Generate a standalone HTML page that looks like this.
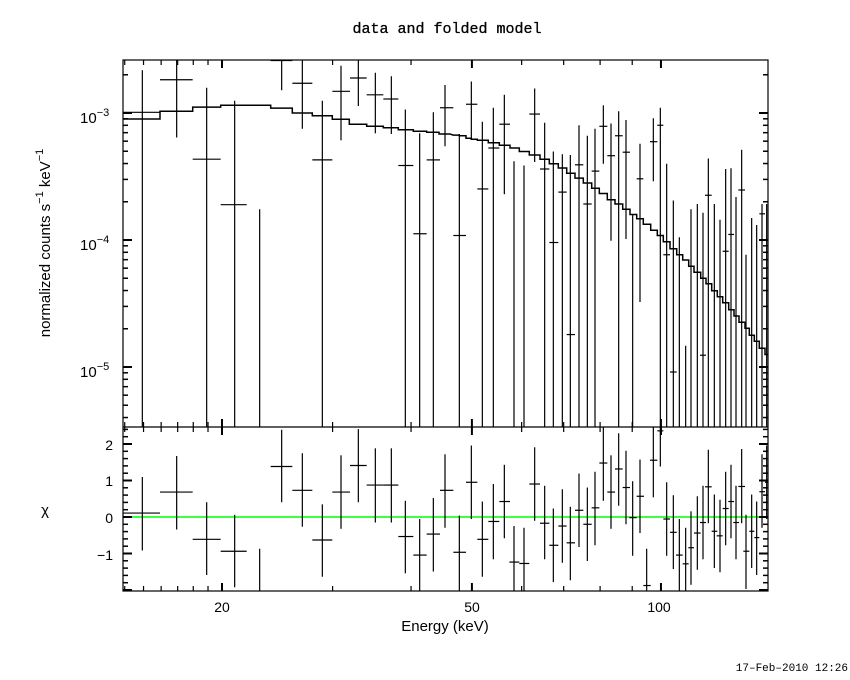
<!DOCTYPE html>
<html><head><meta charset="utf-8"><style>
body{margin:0;background:#fff;}
svg{display:block;font-family:"Liberation Sans",sans-serif;}
</style></head><body>
<svg id="s" width="850" height="680" xmlns="http://www.w3.org/2000/svg">
<rect width="850" height="680" fill="#fff"/>
<text x="447" y="33" font-size="15" text-anchor="middle" font-family="Liberation Mono,monospace" stroke="#000" stroke-width="0.3">data and folded model</text>
<text x="445" y="631" font-size="15" text-anchor="middle">Energy (keV)</text>
<text x="222" y="612" font-size="14" text-anchor="middle">20</text>
<text x="472" y="612" font-size="14" text-anchor="middle">50</text>
<text x="659" y="612" font-size="14" text-anchor="middle">100</text>
<text x="848" y="671" font-size="11" text-anchor="end" font-family="Liberation Mono,monospace">17–Feb–2010 12:26</text>
<text transform="translate(50,243) rotate(-90)" font-size="15" text-anchor="middle">normalized counts s<tspan dy="-7" font-size="11">−1</tspan><tspan dy="7">  keV</tspan><tspan dy="-7" font-size="11">−1</tspan></text>
<text x="80" y="123" font-size="15">10<tspan dy="-7" font-size="11">−3</tspan></text>
<text x="80" y="250" font-size="15">10<tspan dy="-7" font-size="11">−4</tspan></text>
<text x="80" y="377" font-size="15">10<tspan dy="-7" font-size="11">−5</tspan></text>
<text x="45" y="515" font-size="15" text-anchor="middle">χ</text>
<text x="113" y="450" font-size="14" text-anchor="end">2</text>
<text x="113" y="486" font-size="14" text-anchor="end">1</text>
<text x="113" y="523" font-size="14" text-anchor="end">0</text>
<text x="113" y="560" font-size="14" text-anchor="end">−1</text>
<g id="g" stroke="#000" fill="none" stroke-width="1.2"></g>
</svg>
<script>
var g=document.getElementById('g');
function L(x1,y1,x2,y2,c,w){var e=document.createElementNS('http://www.w3.org/2000/svg','line');e.setAttribute('x1',x1);e.setAttribute('y1',y1);e.setAttribute('x2',x2);e.setAttribute('y2',y2);if(c)e.setAttribute('stroke',c);if(w)e.setAttribute('stroke-width',w);g.appendChild(e);}
function Y(zy){return 50+zy/2.857;}
var T=60,M=427,B=591,Lx=123,R=768;
function cl(y,a,b){return Math.max(a,Math.min(b,y));}
var top1=[[100,127,70,180,178,58,1078],[100,230,180,278,85,30,250],[100,320,278,362,312,108,1078],[100,404,362,440,442,145,1078],[100,479,null,null,null,455,1078],[100,545,512,577,30,30,115],[100,607,577,637,95,30,225],[100,667,637,697,314,145,1078],[100,723,697,750,118,45,258],[100,775,750,800,80,30,160],[100,826,800,850,128,65,238],[100,874,850,895,140,75,240],[100,916,895,940,330,170,1078],[100,959,940,980,525,238,1078],[100,1000,980,1020,314,178,1078],
[440,15,0,40,165,100,275],[440,58,40,78,530,240,1078],[440,94,78,112,155,90,255],[440,127,112,145,397,205,1078],[440,160,145,178,280,165,1078],[440,193,178,210,212,128,412],[440,222,null,null,null,318,1078],[440,252,null,null,null,330,1078],[440,284,268,300,183,110,320],[440,314,300,328,340,208,1078],[440,340,328,355,550,290,1078],[440,367,355,380,406,298,1078],[440,391,380,405,813,300,1078],[440,417,405,430,328,215,1078],[440,442,430,455,440,245,1078],[440,465,455,478,346,225,1078],[440,490,478,502,218,158,325],[440,513,502,525,302,210,545],[440,536,525,548,245,175,1078],[440,558,548,570,292,200,540],[440,578,null,null,null,470,1078],[440,600,590,610,368,268,720],[440,640,630,652,262,195,375],[440,661,652,670,215,165,1078],[440,680,670,690,585,325,1078],[440,700,690,710,920,430,1078],[440,718,null,null,null,535,1078],[440,737,null,null,null,845,1078],[440,753,null,null,null,455,1078],[440,772,null,null,null,440,1078],[440,789,780,798,872,465,1078],[440,805,795,815,415,310,1078],[440,823,null,null,null,440,1078],[440,840,null,null,null,485,1078],[440,857,848,866,575,340,1078],[440,873,865,882,527,338,1078],[440,888,null,null,null,420,1078],[440,905,895,915,400,285,1078],[440,918,null,null,null,585,1078],[440,935,null,null,null,480,1078],[440,950,null,null,null,500,1078],[440,966,958,975,468,440,1078],[440,980,null,null,null,440,1078]];
top1.forEach(function(p){var o=p[0];var xc=o+p[1]/3;L(xc,cl(Y(p[5]),T,M),xc,cl(Y(p[6]),T,M));if(p[4]!==null)L(Math.max(Lx,o+p[2]/3),cl(Y(p[4]),T,M),o+p[3]/3,cl(Y(p[4]),T,M));});
var res=[[100,127,70,180,1323,1220,1430],[100,230,180,278,1263,1160,1370],[100,320,278,362,1398,1292,1500],[100,404,362,440,1432,1328,1535],[100,479,440,512,1560,1425,1545],[100,545,512,577,1190,1085,1292],[100,607,577,637,1258,1152,1362],[100,667,637,697,1400,1298,1505],[100,723,697,750,1263,1158,1368],[100,775,750,800,1187,1083,1292],[100,826,800,850,1243,1138,1350],[100,874,850,895,1243,1138,1350],[100,916,895,940,1390,1288,1495],[100,959,940,980,1443,1340,1545],[100,1000,980,1020,1383,1280,1490],
[440,15,0,40,1258,1155,1365],[440,58,40,78,1435,1330,1560],[440,94,78,112,1235,1130,1340],[440,127,112,145,1398,1290,1505],[440,160,145,178,1347,1240,1455],[440,193,178,210,1290,1185,1395],[440,222,208,238,1463,1360,1570],[440,252,238,268,1467,1365,1570],[440,284,268,300,1240,1135,1345],[440,314,300,328,1352,1245,1455],[440,340,328,355,1415,1310,1520],[440,367,355,380,1360,1255,1465],[440,391,380,405,1408,1305,1515],[440,417,405,430,1315,1210,1420],[440,442,430,455,1355,1250,1460],[440,465,455,478,1308,1205,1415],[440,490,478,502,1180,1078,1288],[440,513,502,525,1263,1158,1368],[440,536,525,548,1197,1095,1302],[440,558,548,570,1250,1145,1355],[440,578,568,590,1336,1232,1445],[440,600,590,612,1275,1170,1380],[440,620,610,632,1530,1425,1545],[440,640,630,652,1172,1078,1278],[440,661,652,670,1088,1078,1190],[440,680,670,690,1340,1235,1445],[440,700,690,710,1378,1272,1483],[440,718,708,728,1443,1340,1545],[440,737,728,746,1468,1365,1545],[440,753,745,762,1422,1318,1528],[440,772,762,782,1380,1275,1485],[440,789,780,798,1350,1245,1455],[440,805,795,815,1248,1142,1352],[440,823,815,832,1375,1270,1480],[440,840,830,848,1388,1285,1492],[440,857,848,866,1310,1205,1415],[440,873,865,882,1290,1185,1395],[440,888,880,897,1350,1245,1455],[440,905,895,915,1247,1140,1352],[440,918,910,928,1432,1328,1540],[440,935,928,943,1375,1270,1480],[440,950,943,958,1393,1290,1500],[440,966,958,975,1262,1155,1365],[440,980,975,985,1235,1130,1340]];
L(Lx,517,R,517,'#00ff00',1.5);
res.forEach(function(p){var o=p[0];var xc=o+p[1]/3;L(xc,cl(Y(p[5]),M,B),xc,cl(Y(p[6]),M,B));var yc=Y(p[4]);if(yc>=M&&yc<=B)L(Math.max(Lx,o+p[2]/3),yc,Math.min(R,o+p[3]/3),yc);});
var m1=[[70,180,197],[180,278,175],[278,362,163],[362,512,158],[512,577,166],[577,637,180],[637,697,188],[697,748,198],[748,800,212],[800,850,218],[850,895,222],[895,940,228],[940,980,232],[980,1017,235],[1017,1050,240]];
var m2=[[40,58,243],[58,78,245],[78,94,252],[94,112,255],[112,145,258],[145,178,265],[178,210,272],[210,238,280],[238,268,290],[268,300,300],[300,328,312],[328,355,325],[355,380,337],[380,405,352],[405,430,366],[430,455,380],[455,478,395],[478,502,410],[502,525,428],[525,548,440],[548,570,455],[570,590,470],[590,610,482],[610,632,498],[632,652,515],[652,670,530],[670,690,548],[690,710,568],[710,728,585],[728,746,600],[746,762,618],[762,782,635],[782,798,652],[798,815,668],[815,832,688],[832,848,705],[848,866,722],[866,882,742],[882,897,760],[897,915,778],[915,928,795],[928,943,815],[943,958,832],[958,975,852],[975,985,870]];
var pts=[];m1.forEach(function(s){pts.push([100+s[0]/3,Y(s[2])],[100+s[1]/3,Y(s[2])]);});
m2.forEach(function(s){pts.push([440+s[0]/3,Y(s[2])],[440+s[1]/3,Y(s[2])]);});
var pl=document.createElementNS('http://www.w3.org/2000/svg','polyline');pl.setAttribute('points',pts.map(function(p){return p[0].toFixed(1)+','+p[1].toFixed(1)}).join(' '));pl.setAttribute('stroke-width','1.5');g.appendChild(pl);
var r1=document.createElementNS('http://www.w3.org/2000/svg','rect');r1.setAttribute('x',Lx);r1.setAttribute('y',T);r1.setAttribute('width',R-Lx);r1.setAttribute('height',B-T);g.appendChild(r1);
L(Lx,M,R,M);
function X(e){return 222+(Math.log10(e)-Math.log10(20))*628;}
[14,15,16,17,18,19,20,30,40,50,60,70,80,90,100,200].forEach(function(e){var x=X(e);if(x<Lx||x>R)return;var maj=(e==20||e==50||e==100);var l=maj?8:5;var w=maj?2:1.2;
L(x,B,x,B-l,null,w);L(x,M,x,M-l,null,w);L(x,M,x,M+l,null,w);L(x,T,x,T+l,null,w);});
function YL(v){return 113-(v+3)*127;}
for(var d=-6;d<=-2;d++){for(var k=1;k<10;k++){var y=YL(d+Math.log10(k));if(y<T||y>M)continue;var l=k==1?9:5;var w=k==1?2:1.5;L(Lx,y,Lx+l,y,null,w);L(R,y,R-l,y,null,w);}}
for(var v=-2;v<=2.5;v+=0.2){var y=517-v*36.5;if(y<M||y>B)continue;var mj=Math.abs(v-Math.round(v))<0.01;var l=mj?9:5;L(Lx,y,Lx+l,y,null,mj?2:1.5);L(R,y,R-l,y,null,mj?2:1.5);}
</script>
</body></html>
